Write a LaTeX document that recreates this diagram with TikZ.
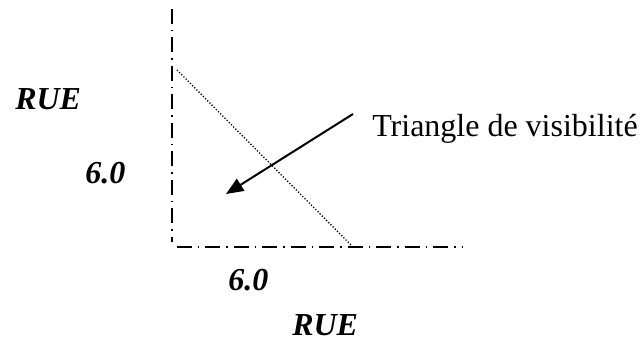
\documentclass[tikz,border=0pt]{standalone}
\usepackage{fontspec}
\setmainfont{Liberation Serif}
\usepackage{xcolor}
\usepackage{tikz}
\usetikzlibrary{arrows.meta,positioning}
\definecolor{cInk}{HTML}{000000}
\tikzset{
  axisline/.style={draw=cInk,line width=1.5pt,dash pattern=on 11.25pt off 4.5pt on 1.1pt off 4.5pt},
  sightline/.style={draw=cInk,line width=1pt,dash pattern=on 0.9pt off 1.4pt},
  arr/.style={-{Triangle[length=13pt,width=10.5pt]},line width=1.5pt,color=cInk},
  street/.style={font=\fontsize{24}{28}\selectfont\bfseries\itshape,text=cInk,inner sep=0pt,anchor=base west},
  lbl/.style={font=\fontsize{24}{28}\selectfont,text=cInk,inner sep=0pt,anchor=base west},
}

\begin{document}
\begin{tikzpicture}[x=0.75pt,y=-0.75pt]
  \useasboundingbox (0,0) rectangle (641,341);
  % corner of the two streets
  \coordinate (vTop) at (172,9);
  \coordinate (vEnd) at (172,242);
  \coordinate (hStart) at (177,247);
  \coordinate (hEnd) at (462,247);
  \draw[axisline] (vTop) -- (vEnd);
  \draw[axisline] (hStart) -- (hEnd);
  % sight line
  \coordinate (sTop) at (177,70);
  \coordinate (sEnd) at (352,246);
  \draw[sightline] (sTop) -- (sEnd);
  % labels
  \node[street] (rueLeft) at (15,110) {RUE};
  \node[street] (sixLeft) at (85,184) {6.0};
  \node[street] (sixBottom) at (228,291) {6.0};
  \node[street] (rueBottom) at (292,335) {RUE};
  \node[lbl] (tri) at (372,137) {Triangle de visibilité};
  % arrow
  \coordinate (tail) at (353,114);
  \coordinate (tip) at (226,194);
  \draw[arr] (tail) -- (tip);
\end{tikzpicture}
\end{document}
